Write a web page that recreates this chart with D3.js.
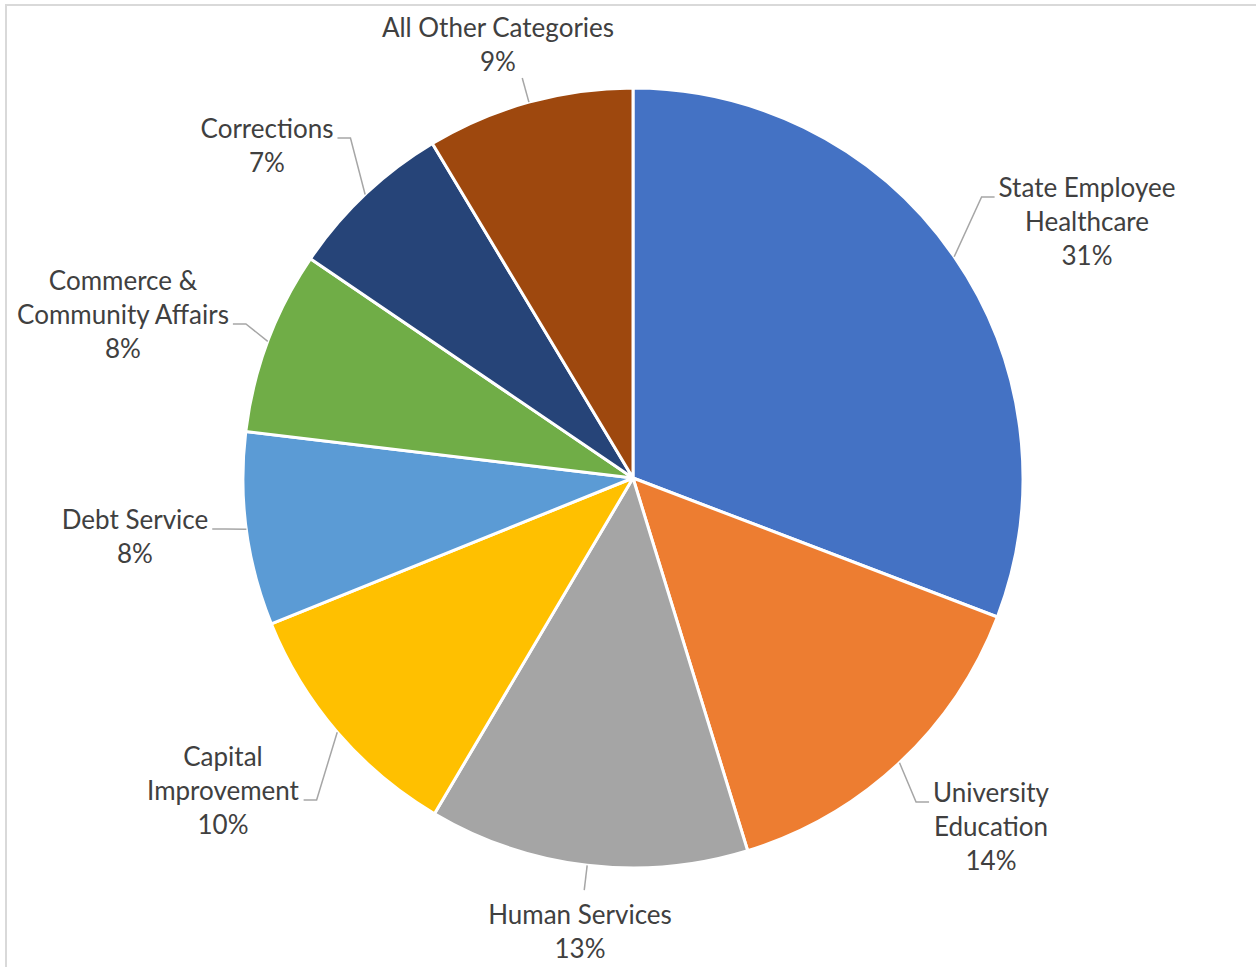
<!DOCTYPE html>
<html>
<head>
<meta charset="utf-8">
<script src="https://cdn.jsdelivr.net/npm/d3@7"></script>
<style>
  body { margin: 0; background: #fff; }
  svg text { font-family: Lato, "Open Sans", sans-serif; font-size: 26px; fill: #404040; }
</style>
</head>
<body>
<svg width="1256" height="967"></svg>
<script>
// categories, clockwise from 12 o'clock
const CATEGORIES = [
    ["State Employee", "Healthcare"],
    ["University", "Education"],
    ["Human Services"],
    ["Capital", "Improvement"],
    ["Debt Service"],
    ["Commerce &", "Community Affairs"],
    ["Corrections"],
    ["All Other Categories"]
];
const VALUES = [30.8, 14.45, 13.25, 10.4, 8.0, 7.6, 6.9, 8.6];
const COLORS = ["#4472C4", "#ED7D31", "#A5A5A5", "#FFC000", "#5B9BD5", "#70AD47", "#264478", "#9E480E"];

// label layout: text centre x, first baseline, side the leader leaves from, line the elbow sits on
const LABEL_POS = [
    { x: 1087, y: 197, side: "left",  line: 0 },
    { x: 991,  y: 802, side: "left",  line: 0 },
    { x: 580,  y: 924, side: "top" },
    { x: 223,  y: 766, side: "right", line: 1 },
    { x: 135,  y: 529, side: "right", line: 0 },
    { x: 123,  y: 290, side: "right", line: 1 },
    { x: 267,  y: 138, side: "right", line: 0 },
    { x: 498,  y: 37,  side: "bottom" }
];

var svg = d3.select("svg"),
    cx = 633, cy = 478, radius = 390,
    lineH = 34;

svg.append("rect")
   .attr("x", 6).attr("y", 5)
   .attr("width", 1280).attr("height", 1000)
   .attr("fill", "none")
   .attr("stroke", "#d9d9d9")
   .attr("stroke-width", 2);

var data = CATEGORIES.map(function(c, i) { return { name: c, value: VALUES[i], color: COLORS[i], pos: LABEL_POS[i] }; });
var total = d3.sum(VALUES);
var pct = d3.format(".0%");

var pie = d3.pie().sort(null).value(function(d) { return d.value; });
var arc = d3.arc().innerRadius(0).outerRadius(radius);

var g = svg.append("g").attr("transform", "translate(" + cx + "," + cy + ")");
var arcs = pie(data);

g.selectAll("path.slice")
 .data(arcs)
 .enter().append("path")
 .attr("class", "slice")
 .attr("d", arc)
 .attr("fill", function(d) { return d.data.color; })
 .attr("stroke", "#fff")
 .attr("stroke-width", 3)
 .attr("stroke-linejoin", "round");

var labels = svg.append("g");

arcs.forEach(function(a) {
    var p = a.data.pos;
    var lines = a.data.name.concat([pct(a.data.value / total)]);
    var t = labels.append("text").attr("text-anchor", "middle");
    lines.forEach(function(l, i) {
        t.append("tspan").attr("x", p.x).attr("y", p.y + i * lineH).text(l);
    });

    // leader from slice edge at mid-angle
    var mid = (a.startAngle + a.endAngle) / 2;
    var px = cx + radius * Math.sin(mid), py = cy - radius * Math.cos(mid);
    var pts;
    if (p.side === "top" || p.side === "bottom") {
        var ox = cx + (radius + 25) * Math.sin(mid), oy = cy - (radius + 25) * Math.cos(mid);
        pts = [[px, py], [ox, oy]];
    } else {
        var bb = t.node().getBBox();
        var ey = p.y + p.line * lineH;
        var ex = p.side === "left" ? bb.x - 4 : bb.x + bb.width + 4;
        var kx = p.side === "left" ? ex - 13 : ex + 13;
        pts = [[px, py], [kx, ey], [ex, ey]];
    }
    labels.append("path")
          .attr("d", d3.line()(pts))
          .attr("fill", "none")
          .attr("stroke", "#a6a6a6")
          .attr("stroke-width", 1.5);
});
</script>
</body>
</html>
